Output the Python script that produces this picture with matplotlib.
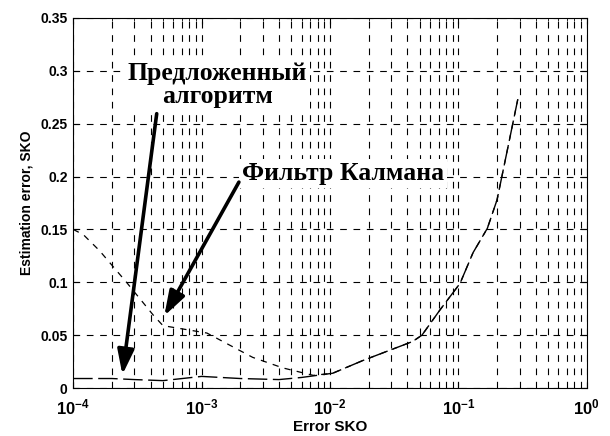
import matplotlib.pyplot as plt
from matplotlib.ticker import LogLocator, NullFormatter

plt.rcParams['font.family'] = ['Liberation Sans', 'DejaVu Sans']
plt.rcParams['mathtext.fontset'] = 'custom'
plt.rcParams['mathtext.rm'] = 'Liberation Sans'
plt.rcParams['mathtext.bf'] = 'Liberation Sans:bold'

# фильтр Калмана
x_kalman = [1e-4, 1.2e-4, 1.6e-4, 2.6e-4, 4.2e-4, 5e-4, 1.1e-3, 2.5e-3, 4.3e-3, 7.4e-3,
            1.05e-2, 1.8e-2, 4.4e-2, 5.2e-2, 7.2e-2, 1.03e-1, 1.3e-1, 1.68e-1, 2.0e-1, 2.5e-1, 2.9e-1]
y_kalman = [0.150, 0.145, 0.130, 0.100, 0.069, 0.059, 0.052, 0.029, 0.019, 0.012,
            0.014, 0.026, 0.044, 0.050, 0.074, 0.099, 0.128, 0.151, 0.178, 0.235, 0.273]

# предложенный алгоритм
x_prop = [1e-4, 2e-4, 3e-4, 5e-4, 1e-3, 2e-3, 4e-3, 6e-3, 1.05e-2, 1.8e-2, 4.4e-2, 5.2e-2,
          7.2e-2, 1.03e-1, 1.3e-1, 1.68e-1, 2.0e-1, 2.5e-1, 2.9e-1]
y_prop = [0.009, 0.009, 0.008, 0.007, 0.011, 0.009, 0.008, 0.010, 0.014, 0.026, 0.044, 0.050,
          0.074, 0.099, 0.128, 0.151, 0.178, 0.235, 0.273]

yticks = [0, 0.05, 0.1, 0.15, 0.2, 0.25, 0.3, 0.35]
ytick_labels = ['0', '0.05', '0.1', '0.15', '0.2', '0.25', '0.3', '0.35']
xticks = [1e-4, 1e-3, 1e-2, 1e-1, 1e0]
xtick_labels = [r'$\mathbf{10^{-4}}$', r'$\mathbf{10^{-3}}$', r'$\mathbf{10^{-2}}$',
                r'$\mathbf{10^{-1}}$', r'$\mathbf{10^{0}}$']

fig = plt.figure(figsize=(6.1, 4.36), dpi=100)
ax = fig.add_axes([0.12, 0.11, 0.842, 0.849])

ax.plot(x_prop, y_prop, color='k', lw=1.0, linestyle=(0, (14, 4)))
ax.plot(x_kalman, y_kalman, color='k', lw=0.9, linestyle=(0, (5, 5)))

ax.set_xscale('log')
ax.set_xlim(1e-4, 1)
ax.set_ylim(0, 0.35)
ax.set_xticks(xticks)
ax.set_xticklabels(xtick_labels, fontsize=12)
ax.xaxis.set_minor_locator(LogLocator(base=10, subs=range(2, 10)))
ax.xaxis.set_minor_formatter(NullFormatter())
ax.set_yticks(yticks)
ax.set_yticklabels(ytick_labels, fontsize=10, fontweight='bold')
ax.tick_params(direction='in', which='both', top=True, right=True, length=4)
ax.tick_params(axis='x', which='major', pad=7)
ax.tick_params(axis='y', which='major', pad=4)
ax.tick_params(which='minor', length=2)

# сетка
ax.grid(True, which='major', color='k', linestyle=(0, (6, 6)), lw=0.8)
ax.grid(True, which='minor', axis='x', color='k', linestyle=(0, (6, 6)), lw=0.8)

ax.set_xlabel('Error SKO', fontsize=11, fontweight='bold', labelpad=2)
ax.set_ylabel('Estimation error, SKO', fontsize=10, fontweight='bold', labelpad=5)

# подписи со стрелками
serif = ['Liberation Serif', 'DejaVu Serif']
box = dict(facecolor='white', edgecolor='none', pad=2)
ax.text(1.32e-3, 0.287, 'Предложенный\nалгоритм', ha='center', va='center',
        fontsize=18.5, fontweight='bold', family=serif, linespacing=1.0, bbox=box, zorder=5)
ax.text(2.05e-3, 0.203, 'Фильтр Калмана', ha='left', va='center', fontsize=18.5,
        fontweight='bold', family=serif, bbox=box, zorder=5)
arrow = dict(arrowstyle='-|>,head_length=1.5,head_width=0.5', color='k', lw=2.6)
ax.annotate('', xy=(2.4e-4, 0.010), xytext=(4.5e-4, 0.262), arrowprops=arrow, zorder=6)
ax.annotate('', xy=(5.0e-4, 0.066), xytext=(2.0e-3, 0.197), arrowprops=arrow, zorder=6)

fig.savefig('out.png', dpi=100)
